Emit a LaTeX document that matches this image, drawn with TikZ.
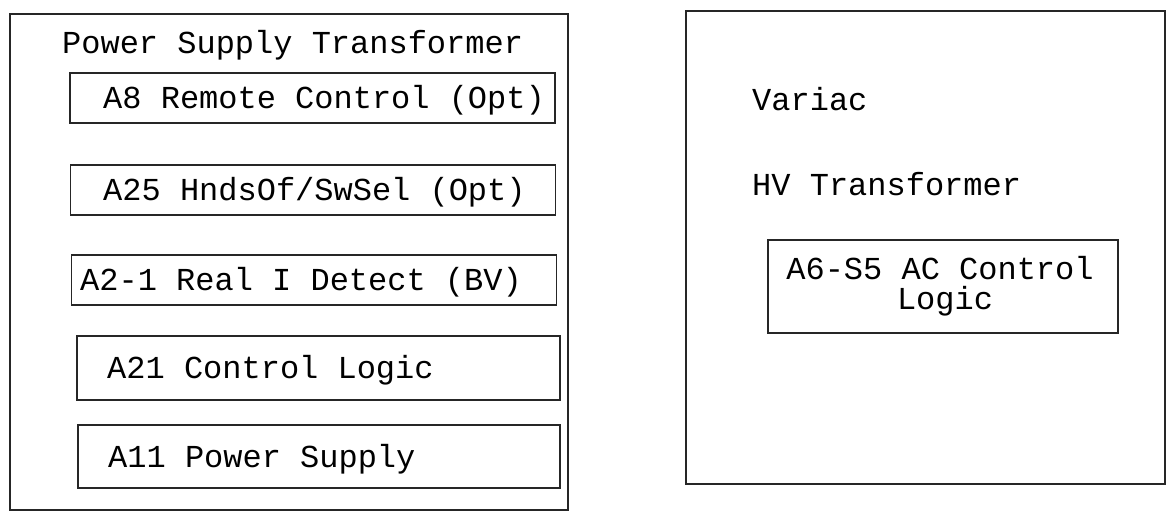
\documentclass[tikz,border=0pt]{standalone}
\usepackage{fontspec}
\setmonofont{Liberation Mono}
\begin{document}
\begin{tikzpicture}[x=1pt,y=-1pt,
  box/.style={draw=black!85, line width=1.3pt, inner sep=0pt},
  lbl/.style={inner sep=0pt, anchor=base west, font=\ttfamily\fontsize{32}{28}\selectfont},
  clbl/.style={inner sep=0pt, anchor=base, font=\ttfamily\fontsize{32}{28}\selectfont}]
\useasboundingbox (0,0) rectangle (1176,512);
\fill[white] (0,0) rectangle (1176,512);
% left frame
\node[box, minimum width=558, minimum height=496] (left) at (289,262) {};
\node[lbl] (pst) at (62,53) {Power Supply Transformer};
\node[box, minimum width=485, minimum height=50] (a8) at (312.5,98) {};
\node[lbl] (a8t) at (103,108) {A8 Remote Control (Opt)};
\node[box, minimum width=485, minimum height=50] (a25) at (313,190) {};
\node[lbl] (a25t) at (103,200) {A25 HndsOf/SwSel (Opt)};
\node[box, minimum width=485, minimum height=50] (a21b) at (314,280) {};
\node[lbl] (a21bt) at (80,290) {A2-1 Real I Detect (BV)};
\node[box, minimum width=483, minimum height=64] (a21) at (318.5,368) {};
\node[lbl] (a21t) at (107,378) {A21 Control Logic};
\node[box, minimum width=482, minimum height=63] (a11) at (319,456.5) {};
\node[lbl] (a11t) at (108,467) {A11 Power Supply};
% right frame
\node[box, minimum width=479, minimum height=473] (right) at (925.5,247.5) {};
\node[lbl] (var) at (752,110) {Variac};
\node[lbl] (hvt) at (752,195) {HV Transformer};
\node[box, minimum width=350, minimum height=93] (a6) at (943,286.5) {};
\node[clbl] (a6t1) at (940,279) {A6-S5 AC Control};
\node[clbl] (a6t2) at (945,309) {Logic};
\end{tikzpicture}
\end{document}
